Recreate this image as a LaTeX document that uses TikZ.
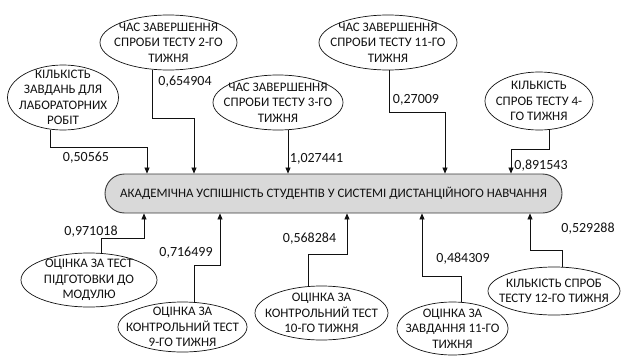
\documentclass[tikz,border=0pt]{standalone}
\usepackage{fontspec}
\setmainfont{Carlito}
\usetikzlibrary{arrows.meta,shapes.geometric}
\definecolor{dgInk}{HTML}{111111}
\definecolor{dgBox}{HTML}{D9D9D9}
\definecolor{dgEdge}{HTML}{3A3A3A}
\newcommand{\factorfont}{\fontsize{13}{15.5}\selectfont}
\newcommand{\coeffont}{\fontsize{14}{16}\selectfont}

\begin{document}
\begin{tikzpicture}[x=1pt,y=-1pt,
    factor/.style={ellipse,draw=dgInk,fill=white,line width=0.7pt,inner sep=-14pt,align=center,font=\factorfont,text=dgInk},
    target/.style={draw=dgEdge,fill=dgBox,line width=0.9pt,rounded corners=19.5pt,minimum width=457pt,minimum height=39pt,font=\fontsize{12.9}{15}\selectfont,text=dgInk},
    link/.style={draw=dgInk,line width=0.7pt,-{Triangle[length=6pt,width=5pt]}},
    coef/.style={font=\coeffont,text=dgInk,inner sep=0pt}]
  \useasboundingbox (0,0) rectangle (621,356);

  % results node
  \node[target] (aus) at (333.5,193.5) {АКАДЕМІЧНА УСПІШНІСТЬ СТУДЕНТІВ У СИСТЕМІ ДИСТАНЦІЙНОГО НАВЧАННЯ};

  % factors above
  \node[factor,minimum width=111pt,minimum height=65pt] (kzlr) at (63,97.5) {КІЛЬКІСТЬ\\ЗАВДАНЬ ДЛЯ\\ЛАБОРАТОРНИХ\\РОБІТ};
  \node[factor,minimum width=137pt,minimum height=55pt] (czt2) at (168.5,42.5) {ЧАС ЗАВЕРШЕННЯ\\СПРОБИ ТЕСТУ 2-ГО\\ТИЖНЯ};
  \node[factor,minimum width=130pt,minimum height=55pt] (czt3) at (278,102.5) {ЧАС ЗАВЕРШЕННЯ\\СПРОБИ ТЕСТУ 3-ГО\\ТИЖНЯ};
  \node[factor,minimum width=138pt,minimum height=55pt] (czt11) at (388,42.5) {ЧАС ЗАВЕРШЕННЯ\\СПРОБИ ТЕСТУ 11-ГО\\ТИЖНЯ};
  \node[factor,minimum width=108pt,minimum height=58pt] (kst4) at (539,101) {КІЛЬКІСТЬ\\СПРОБ ТЕСТУ 4-\\ГО ТИЖНЯ};

  % factors below
  \node[factor,minimum width=136pt,minimum height=54pt] (otpm) at (89,280) {ОЦІНКА ЗА ТЕСТ\\ПІДГОТОВКИ ДО\\МОДУЛЮ};
  \node[factor,minimum width=129pt,minimum height=50pt] (okt9) at (182.5,327) {ОЦІНКА ЗА\\КОНТРОЛЬНИЙ ТЕСТ\\9-ГО ТИЖНЯ};
  \node[factor,minimum width=133pt,minimum height=54pt] (okt10) at (321.5,313) {ОЦІНКА ЗА\\КОНТРОЛЬНИЙ ТЕСТ\\10-ГО ТИЖНЯ};
  \node[factor,minimum width=111pt,minimum height=53pt] (oz11) at (452.5,328.5) {ОЦІНКА ЗА\\ЗАВДАННЯ 11-ГО\\ТИЖНЯ};
  \node[factor,minimum width=132pt,minimum height=48pt] (kst12) at (554,291) {КІЛЬКІСТЬ СПРОБ\\ТЕСТУ 12-ГО ТИЖНЯ};

  % links into the results node
  \draw[link] ([xshift=-13pt]kzlr.south) -- ++(0,17) -| ([xshift=-186.5pt]aus.north);
  \draw[link] ([xshift=-16.5pt]czt2.south) -- ++(0,48) -| ([xshift=-139.5pt]aus.north);
  \draw[link] ([xshift=10pt]czt3.south) -- ([xshift=-45.5pt]aus.north);
  \draw[link] ([xshift=1pt]czt11.south) -- ++(0,42) -| ([xshift=111.5pt]aus.north);
  \draw[link] ([xshift=10pt]kst4.south) -- ++(0,19) -| ([xshift=177.5pt]aus.north);
  \draw[link] ([xshift=12pt]otpm.north) -- ++(0,-14) -| ([xshift=-189.5pt]aus.south);
  \draw[link] ([xshift=11.5pt]okt9.north) -- ++(0,-36) -| ([xshift=-113.5pt]aus.south);
  \draw[link] ([xshift=-13.5pt]okt10.north) -- ++(0,-31) -| ([xshift=13.5pt]aus.south);
  \draw[link] ([xshift=8.5pt]oz11.north) -- ++(0,-25) -| ([xshift=88.5pt]aus.south);
  \draw[link] ([xshift=8pt]kst12.north) -- ++(0,-16) -| ([xshift=196.5pt]aus.south);

  % coefficients
  \node[coef] (w1) at (86,158) {0,50565};
  \node[coef] (w2) at (185,82) {0,654904};
  \node[coef] (w3) at (316.5,159) {1,027441};
  \node[coef] (w4) at (416,100) {0,27009};
  \node[coef] (w5) at (541,166) {0,891543};
  \node[coef] (w6) at (91,232) {0,971018};
  \node[coef] (w7) at (186,253) {0,716499};
  \node[coef] (w8) at (309.5,239) {0,568284};
  \node[coef] (w9) at (463,259) {0,484309};
  \node[coef] (w10) at (588,229) {0,529288};
\end{tikzpicture}
\end{document}
